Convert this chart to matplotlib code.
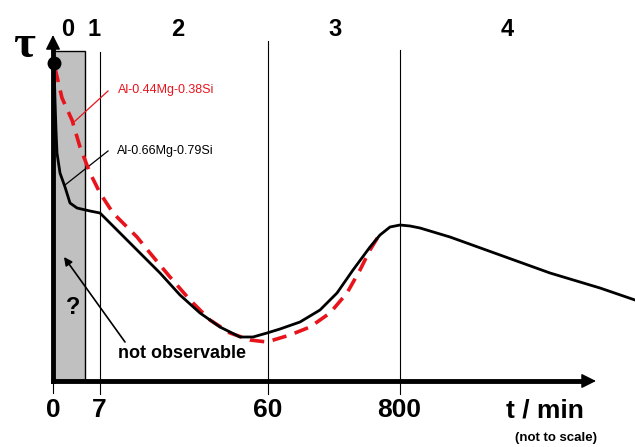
import numpy as np
import matplotlib.pyplot as plt
from matplotlib.patches import Rectangle

plt.rcParams['font.family'] = ['Liberation Sans', 'DejaVu Sans']

# schematic coordinates (horizontal position, height measured downward like the sketch)
black_x = [54, 55, 56, 57, 60, 65, 70, 77, 90, 100, 107, 120, 140, 160, 180, 200,
           220, 240, 253, 267, 280, 300, 320, 337, 353, 370, 380, 390, 400, 410,
           420, 450, 500, 550, 600, 635]
black_y = [63, 100, 130, 153, 173, 187, 203, 208, 211, 213, 220, 233, 253, 273,
           295, 313, 327, 337, 337, 333, 329, 322, 310, 293, 270, 247, 235, 227,
           225, 226, 228, 237, 255, 273, 288, 300]

red_x = [55, 62, 72, 80, 90, 100, 113, 127, 137, 150, 170, 190, 210, 230, 250,
         267, 280, 290, 310, 330, 347, 360, 370, 378]
red_y = [68, 98, 120, 147, 173, 193, 213, 227, 237, 253, 277, 300, 320, 333, 340,
         342, 338, 335, 327, 313, 293, 270, 250, 237]

stage_names = ['0', '1', '2', '3', '4']
stage_pos = [68, 94, 178, 335, 507]
tick_names = ['0', '7', '60', '800']
tick_pos = [53, 99, 268, 399]
divider_pos = [100, 268, 400]
divider_top = [52, 41, 50]

fig = plt.figure(figsize=(6.35, 4.47), dpi=100)
ax = fig.add_axes([0, 0, 1, 1])
ax.set_xlim(0, 635)
ax.set_ylim(447, 0)
ax.axis('off')

# grey "not observable" zone
ax.add_patch(Rectangle((53, 51), 32, 329, facecolor='#c0c0c0',
                       edgecolor='black', lw=1, zorder=1))

# stage dividers
for xp, top in zip(divider_pos, divider_top):
    ax.plot([xp, xp], [top, 394], color='black', lw=0.8, zorder=2)
ax.plot([53, 53], [380, 393], color='black', lw=0.8, zorder=2)

# curves
ax.plot(red_x, red_y, color='#e8141c', lw=2.6, dashes=(4, 2.4), zorder=3)
ax.plot(black_x, black_y, color='black', lw=2, zorder=4,
        solid_joinstyle='round')
ax.plot([54], [63], 'o', color='black', ms=9, zorder=6)

# axes with arrows
ax.plot([53, 53], [381, 48], color='black', lw=3.5, zorder=5,
        solid_capstyle='projecting')
ax.plot([53, 584], [381, 381], color='black', lw=3.5, zorder=5,
        solid_capstyle='projecting')
ax.annotate('', xy=(53, 35), xytext=(53, 50),
            arrowprops=dict(arrowstyle='-|>,head_length=0.5,head_width=0.25',
                            lw=1, color='black',
                            mutation_scale=18, shrinkA=0, shrinkB=0), zorder=5)
ax.annotate('', xy=(596, 381), xytext=(581, 381),
            arrowprops=dict(arrowstyle='-|>,head_length=0.5,head_width=0.25',
                            lw=1, color='black',
                            mutation_scale=18, shrinkA=0, shrinkB=0), zorder=5)

# labels
for name, xp in zip(stage_names, stage_pos):
    ax.text(xp, 29, name, fontsize=17, fontweight='bold', ha='center', va='center')
for name, xp in zip(tick_names, tick_pos):
    ax.text(xp, 410, name, fontsize=19, fontweight='bold', ha='center', va='center')

ax.text(24, 46, 'τ', fontsize=34, fontweight='bold', ha='center', va='center',
        family=['Liberation Serif', 'DejaVu Serif'])
ax.text(545, 410, 't / min', fontsize=19, fontweight='bold', ha='center', va='center')
ax.text(556, 438, '(not to scale)', fontsize=9.5, fontweight='bold',
        ha='center', va='center')
ax.text(73, 307, '?', fontsize=17, fontweight='bold', ha='center', va='center')
ax.text(182, 353, 'not observable', fontsize=13, fontweight='bold',
        ha='center', va='center')
ax.annotate('', xy=(64, 257), xytext=(125, 342),
            arrowprops=dict(arrowstyle='-|>', lw=1.2, color='black',
                            mutation_scale=12, shrinkA=0, shrinkB=0))

ax.text(118, 90, 'Al-0.44Mg-0.38Si', fontsize=9, color='#e8141c',
        ha='left', va='center')
ax.plot([108, 74], [91, 122], color='#e8141c', lw=0.9)
ax.text(117, 151, 'Al-0.66Mg-0.79Si', fontsize=9, color='black',
        ha='left', va='center')
ax.plot([108, 65], [151, 185], color='black', lw=0.9)

fig.savefig('out.png', dpi=100)
